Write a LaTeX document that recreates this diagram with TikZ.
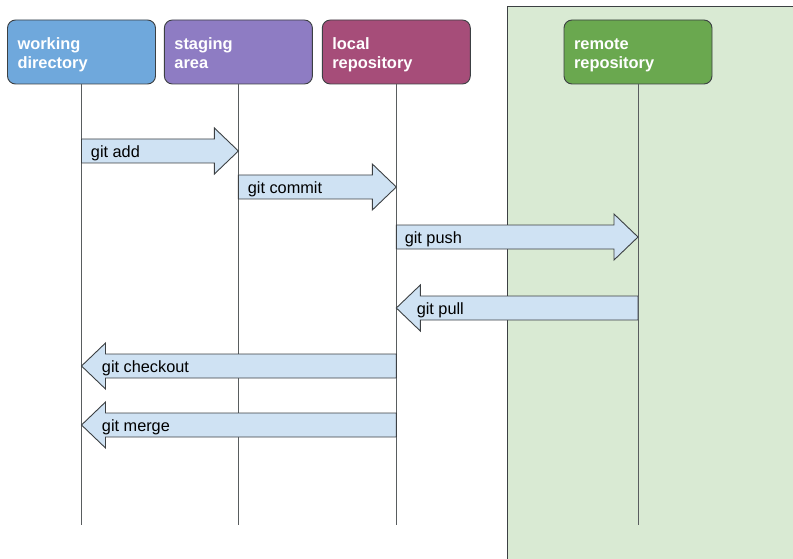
\documentclass[tikz,border=0pt]{standalone}
\usepackage{fontspec}
\setmainfont{Liberation Sans}
\usetikzlibrary{calc, positioning}
\definecolor{WorkBlue}{RGB}{111, 168, 220}
\definecolor{StagePurple}{RGB}{142, 124, 195}
\definecolor{LocalPlum}{RGB}{166, 77, 121}
\definecolor{RemoteGreen}{RGB}{106, 168, 79}
\definecolor{RemoteBg}{RGB}{217, 234, 211}
\definecolor{CmdBlue}{RGB}{207, 226, 243}
\definecolor{EdgeGrey}{RGB}{60, 64, 67}

\tikzset{
  area/.style={draw=EdgeGrey, line width=0.9pt, rounded corners=8pt,
    minimum width=148pt, minimum height=64pt, inner sep=0pt,
    text width=128pt, align=left, text=white,
    font=\fontsize{16.4}{19}\selectfont\bfseries,
    execute at begin node=\rule{0pt}{17.5pt},
    execute at end node=\rule[-4pt]{0pt}{4pt}},
  lifeline/.style={draw=EdgeGrey!85, line width=0.8pt},
  gitarrow/.style={draw=EdgeGrey, line width=0.9pt, fill=CmdBlue},
  cmd/.style={anchor=base west, inner sep=0pt, font=\fontsize{16.3}{19}\selectfont}
}

\begin{document}
\begin{tikzpicture}[x=1pt, y=-1pt]
    \useasboundingbox (0,0) rectangle (793,559);

    % Remote side
    \fill[RemoteBg] (507,6) rectangle (800,570);
    \draw[EdgeGrey, line width=0.9pt] (507,570) -- (507,6) -- (800,6);

    % Areas
    \node[area, fill=WorkBlue] (wd) at (81.5,52) {working\\directory};
    \node[area, fill=StagePurple, right=8pt of wd] (sa) {staging\\area};
    \node[area, fill=LocalPlum, right=9pt of sa] (lr) {local\\repository};
    \node[area, fill=RemoteGreen] (rr) at (638,52) {remote\\repository};

    % Lifelines
    \foreach \a in {wd, sa, lr, rr} {
        \coordinate (\a-end) at (\a.south |- 0,525);
        \draw[lifeline] (\a) -- (\a-end);
    }

    % Commands
    \foreach \from/\to/\ypos/\dx/\txt [count=\i] in {
        wd/sa/151/9/git add,
        sa/lr/187/9/git commit,
        lr/rr/237/8/git push,
        rr/lr/308/20/git pull,
        lr/wd/366/20/git checkout,
        lr/wd/425/20/git merge}
        \draw[gitarrow] let \p1=(\from.south |- 0,\ypos), \p2=(\to.south |- 0,\ypos),
            \n1={sign(\x2-\x1)} in
            (\x1,\y1+12pt) -- ({\x2-(\n1)*24pt},\y1+12pt) -- ({\x2-(\n1)*24pt},\y1+23pt)
            -- (\x2,\y1) -- ({\x2-(\n1)*24pt},\y1-23pt) -- ({\x2-(\n1)*24pt},\y1-12pt)
            -- (\x1,\y1-12pt) -- cycle
            node[cmd] (cmd\i) at ({min(\x1,\x2)+\dx*1pt},\y1-6.5pt) {\txt};
\end{tikzpicture}
\end{document}
